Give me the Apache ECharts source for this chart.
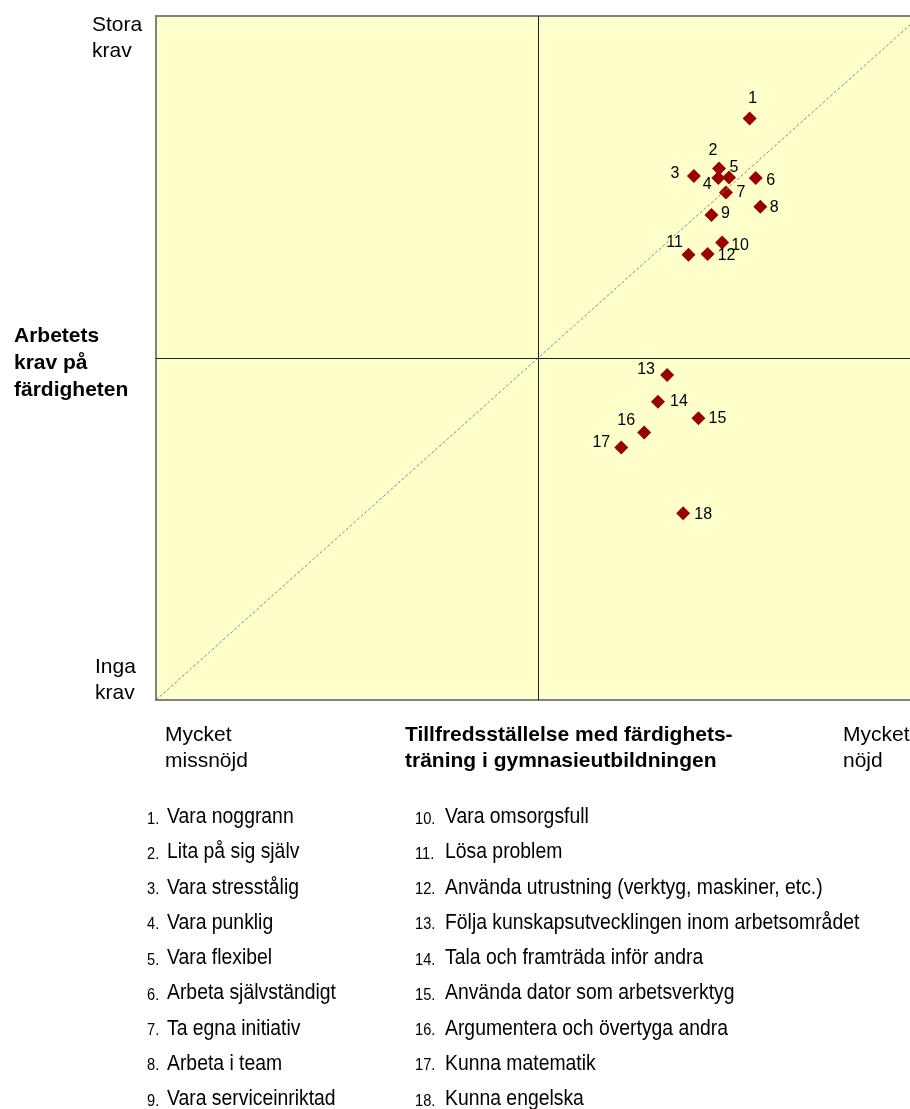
<!DOCTYPE html>
<html>
<head>
<meta charset="utf-8">
<script src="https://cdn.jsdelivr.net/npm/echarts@6/dist/echarts.min.js"></script>
<style>
  html, body { margin: 0; padding: 0; background: #fff; }
  #chart { width: 910px; height: 1109px; }
</style>
</head>
<body>
<div id="chart"></div>
<script>
// punkter: nöjdhet (x) och arbetets krav (y), skala 0-10
const itemIds = ['1', '2', '3', '4', '5', '6', '7', '8', '9', '10', '11', '12', '13', '14', '15', '16', '17', '18'];
const satisfaction = [7.77, 7.37, 7.04, 7.36, 7.50, 7.85, 7.46, 7.91, 7.27, 7.41, 6.97, 7.22, 6.69, 6.57, 7.10, 6.39, 6.09, 6.90];
const demand = [8.50, 7.77, 7.66, 7.63, 7.64, 7.63, 7.42, 7.21, 7.09, 6.69, 6.51, 6.52, 4.75, 4.36, 4.12, 3.91, 3.69, 2.73];
const itemNames = [
  'Vara noggrann', 'Lita på sig själv', 'Vara stresstålig', 'Vara punklig', 'Vara flexibel',
  'Arbeta självständigt', 'Ta egna initiativ', 'Arbeta i team', 'Vara serviceinriktad',
  'Vara omsorgsfull', 'Lösa problem', 'Använda utrustning (verktyg, maskiner, etc.)',
  'Följa kunskapsutvecklingen inom arbetsområdet', 'Tala och framträda inför andra',
  'Använda dator som arbetsverktyg', 'Argumentera och övertyga andra', 'Kunna matematik', 'Kunna engelska'
];

// etikettens förskjutning från punkten (px)
const labelOffsets = [[3, -20], [-6, -18], [-19, -2], [-11, 6], [5, -10], [15, 2], [15, 0], [14, 1], [14, -1],
  [18, 3], [-14, -12], [19, 2], [-21, -6], [21, 0], [19, 0], [-18, -12], [-20, -5], [20, 1]];

const FONT = 'Liberation Sans, Arial, sans-serif';

const chart = echarts.init(document.getElementById('chart'));

function txt(x, y, s, size, weight, extra) {
  return Object.assign({
    type: 'text', x: x, y: y, silent: true,
    style: {text: s, fontSize: size, fontFamily: FONT, fontWeight: weight || 'normal', fill: '#000', verticalAlign: 'middle', align: 'left'}
  }, extra || {});
}

const graphics = [
  txt(92, 25, 'Stora', 21), txt(92, 51, 'krav', 21),
  txt(95, 667, 'Inga', 21), txt(95, 693, 'krav', 21),
  txt(14, 336, 'Arbetets', 21, 'bold'), txt(14, 363, 'krav på', 21, 'bold'), txt(14, 390, 'färdigheten', 21, 'bold'),
  txt(165, 735, 'Mycket', 21), txt(165, 761, 'missnöjd', 21),
  txt(405, 735, 'Tillfredsställelse med färdighets-', 21, 'bold'), txt(405, 761, 'träning i gymnasieutbildningen', 21, 'bold'),
  txt(843, 735, 'Mycket', 21), txt(843, 761, 'nöjd', 21)
];

// förklaringslista i två kolumner
itemNames.forEach((name, i) => {
  const col = i < 9 ? 0 : 1;
  const row = i % 9;
  const y = 817 + row * 35.25;
  const nx = col === 0 ? 147 : 415;
  const tx = col === 0 ? 167 : 445;
  graphics.push(txt(nx, y + 2, (i + 1) + '.', 17, 'normal', {scaleX: 0.86}));
  graphics.push(txt(tx, y, name, 22, 'normal', {scaleX: 0.88}));
});

const option = {
  animation: false,
  backgroundColor: '#fff',
  grid: {
    left: 156, top: 16, width: 764, height: 684,
    outerBoundsMode: 'none', containLabel: false,
    show: true, backgroundColor: '#FFFFCC', borderColor: '#808080', borderWidth: 2
  },
  xAxis: {
    type: 'value', min: 0, max: 10,
    axisLine: {show: false}, axisTick: {show: false}, axisLabel: {show: false}, splitLine: {show: false}
  },
  yAxis: {
    type: 'value', min: 0, max: 10,
    axisLine: {show: false}, axisTick: {show: false}, axisLabel: {show: false}, splitLine: {show: false}
  },
  series: [
    {
      type: 'line',
      data: [[0, 0], [10, 10]],
      symbol: 'none', silent: true,
      lineStyle: {color: '#888', width: 1, type: [3, 2]},
      markLine: {
        silent: true, symbol: 'none', label: {show: false},
        lineStyle: {color: '#222', width: 1, type: 'solid'},
        data: [{xAxis: 5}, {yAxis: 5}]
      }
    },
    {
      type: 'scatter',
      symbol: 'diamond',
      symbolSize: 14,
      itemStyle: {color: '#990000', opacity: 1},
      data: satisfaction.map((v, i) => ({
        value: [v, demand[i]],
        label: {
          show: true, position: 'inside', offset: labelOffsets[i],
          formatter: itemIds[i], color: '#000', fontSize: 16, fontFamily: FONT
        }
      }))
    }
  ],
  graphic: graphics
};

chart.setOption(option);
</script>
</body>
</html>
